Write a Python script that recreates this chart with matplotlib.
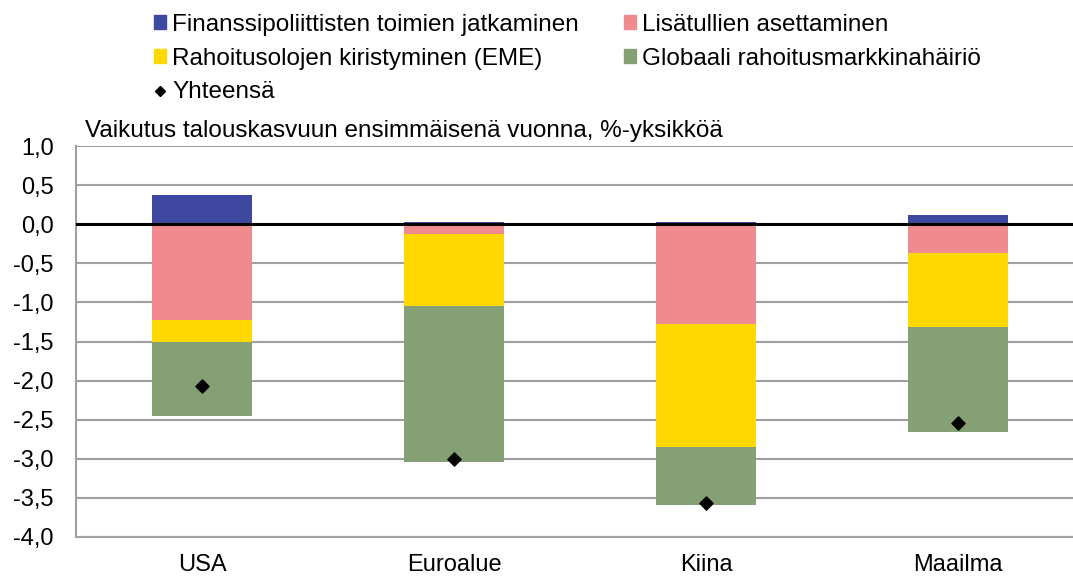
import matplotlib
matplotlib.use("Agg")
import matplotlib.pyplot as plt
from matplotlib.patches import Patch
from matplotlib.lines import Line2D
import numpy as np

categories = ["USA", "Euroalue", "Kiina", "Maailma"]
finanssi = [0.37, 0.03, 0.03, 0.12]
lisatullit = [-1.22, -0.12, -1.28, -0.37]
rahoitus = [-0.28, -0.93, -1.57, -0.94]
globaali = [-0.95, -1.99, -0.74, -1.35]
yhteensa = [-2.07, -3.00, -3.56, -2.54]
yticks = [1.0, 0.5, 0.0, -0.5, -1.0, -1.5, -2.0, -2.5, -3.0, -3.5, -4.0]

labels = ["Finanssipoliittisten toimien jatkaminen", "Lisätullien asettaminen",
          "Rahoitusolojen kiristyminen (EME)", "Globaali rahoitusmarkkinahäiriö", "Yhteensä"]
colors = ["#3F48A0", "#F08A8E", "#FFD800", "#86A075"]

plt.rcParams['font.family'] = ['Liberation Sans', 'DejaVu Sans']

W, H = 1073, 578
fig = plt.figure(figsize=(W / 100, H / 100), dpi=100)
left, right, top, bottom = 76, 1084, 146, 537
ax = fig.add_axes([left / W, 1 - bottom / H, (right - left) / W, (bottom - top) / H])

x = np.arange(len(categories))
bw = 0.40
ax.bar(x, finanssi, bw, color=colors[0], zorder=3)
neg_base = np.zeros(len(categories))
for vals, c in zip([lisatullit, rahoitus, globaali], colors[1:]):
    v = np.array(vals)
    ax.bar(x, v, bw, bottom=neg_base, color=c, zorder=3)
    neg_base = neg_base + v
ax.scatter(x, yhteensa, marker="D", s=45, color="black", zorder=5)

ax.set_ylim(-4.0, 1.0)
ax.set_xlim(-0.5, 3.5)
ax.set_yticks(yticks)
ax.set_yticklabels([f"{t:.1f}".replace(".", ",") for t in yticks], fontsize=17)
ax.set_xticks(x)
ax.set_xticklabels(categories, fontsize=17)
ax.tick_params(axis="y", length=0, pad=16)
ax.tick_params(axis="x", length=0, pad=12)
ax.grid(axis="y", color="#A0A0A0", linewidth=1.5, zorder=0)
ax.axhline(0, color="black", linewidth=2.2, zorder=4)
for s in ["top", "right"]:
    ax.spines[s].set_visible(False)
ax.spines["left"].set_color("#A0A0A0")
ax.spines["left"].set_linewidth(1.5)
ax.spines["bottom"].set_color("#A0A0A0")
ax.spines["bottom"].set_linewidth(1.5)

fig.text(85 / W, 1 - 131 / H, "Vaikutus talouskasvuun ensimmäisenä vuonna, %-yksikköä",
         fontsize=17.5, va="center", ha="left")

handles = [Patch(color=colors[0]), Patch(color=colors[2]),
           Line2D([], [], marker="D", color="black", linestyle="none", markersize=5),
           Patch(color=colors[1]), Patch(color=colors[3])]
hlabels = [labels[0], labels[2], labels[4], labels[1], labels[3]]
fig.legend(handles, hlabels, ncol=2, loc="upper left", bbox_to_anchor=(154 / W, 1 - 14 / H),
           frameon=False, fontsize=17.5, handlelength=0.5, handleheight=0.5, handletextpad=0.25,
           columnspacing=1.85, labelspacing=0.48, borderpad=0, borderaxespad=0)

fig.savefig("out.png", dpi=100)
